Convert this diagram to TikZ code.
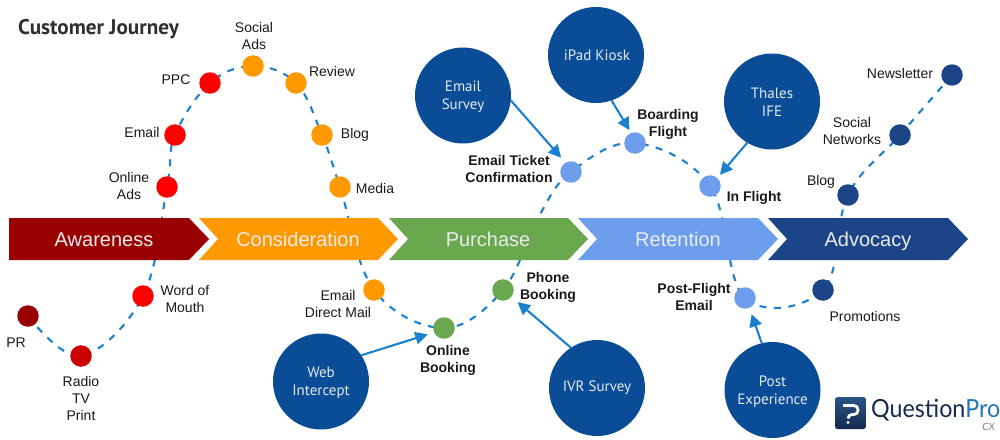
\documentclass[tikz,border=0pt]{standalone}
\usepackage{fontspec}
\setmainfont{Liberation Sans}
\newfontfamily\circfont{PT Sans}
\newfontfamily\logofont{Lato}
\usetikzlibrary{arrows.meta,calc}
\definecolor{cdred}{HTML}{990000}
\definecolor{cred}{HTML}{CC0000}
\definecolor{cbright}{HTML}{FF0000}
\definecolor{corange}{HTML}{FF9900}
\definecolor{cgreen}{HTML}{6AA84F}
\definecolor{clight}{HTML}{6D9EEB}
\definecolor{cdark}{HTML}{1C4587}
\definecolor{cbig}{HTML}{0B4C96}
\definecolor{cline}{HTML}{1B80CF}
\definecolor{ctitle}{HTML}{2F2F2F}
\definecolor{clogo}{HTML}{17284F}
\definecolor{clogotop}{HTML}{2A5488}
\definecolor{cpro}{HTML}{1F77BC}
\pgfdeclarelayer{bg}
\pgfsetlayers{bg,main}
\tikzset{
  x=1pt,y=-1pt,
  dotn/.style={circle,draw=none,fill=#1,minimum size=21.5pt,inner sep=0pt},
  bign/.style={circle,draw=none,fill=cbig,minimum size=96pt,inner sep=0pt},
  bigt/.style={inner sep=0pt,text=white!88!cbig,
    font=\circfont\fontsize{15}{18}\selectfont,align=center},
  lab/.style={inner sep=0pt,align=center,font=\fontsize{14}{17}\selectfont,text=black!90},
  blab/.style={inner sep=0pt,align=center,font=\bfseries\fontsize{14}{17}\selectfont,text=black!90},
  chevt/.style={inner sep=0pt,anchor=base,text=white!92!black,font=\fontsize{20}{24}\selectfont},
  curve/.style={draw=cline,line width=2.1pt,dash pattern=on 7pt off 7.5pt},
  link/.style={draw=cline,line width=2.1pt,-{Triangle[length=12.5pt,width=12.5pt]}},
}
\newcommand{\chev}[3]{\fill[#3] (#1,218)--(#1+#2-20,218)--(#1+#2,239)--(#1+#2-20,260)--(#1,260)--(#1+19,239)--cycle;}
\begin{document}
\begin{tikzpicture}
\useasboundingbox (0,0) rectangle (1000,439);
% chevrons
\fill[cdred] (9,218)--(189,218)--(209,239)--(189,260)--(9,260)--cycle;
\chev{199}{199}{corange}
\chev{389}{199}{cgreen}
\chev{578}{200}{clight}
\chev{768}{200}{cdark}
\node[chevt] (aw) at (104,246) {Awareness};
\node[chevt] (co) at (298,246) {Consideration};
\node[chevt] (pu) at (488,246) {Purchase};
\node[chevt] (re) at (678,246) {Retention};
\node[chevt] (ad) at (868,246) {Advocacy};
% touch points
\node[dotn=cdred] (pr) at (28,316) {};
\node[dotn=cred] (radio) at (81,356) {};
\node[dotn=cbright] (wom) at (143,296) {};
\node[dotn=cbright] (oads) at (167,187) {};
\node[dotn=cbright] (email) at (175,135) {};
\node[dotn=cbright] (ppc) at (210,83) {};
\node[dotn=corange] (social) at (253,66) {};
\node[dotn=corange] (review) at (296,83) {};
\node[dotn=corange] (blog) at (322,135) {};
\node[dotn=corange] (media) at (340,187) {};
\node[dotn=corange] (edm) at (374,290) {};
\node[dotn=cgreen] (online) at (444,328) {};
\node[dotn=cgreen] (phone) at (503,290) {};
\node[dotn=clight] (ticket) at (571,172) {};
\node[dotn=clight] (board) at (635,143) {};
\node[dotn=clight] (flight) at (710,186) {};
\node[dotn=clight] (post) at (745,298) {};
\node[dotn=cdark] (promo) at (823,290) {};
\node[dotn=cdark] (blog2) at (848,195) {};
\node[dotn=cdark] (net) at (900,135) {};
\node[dotn=cdark] (news) at (952,75) {};
\coordinate (bend) at (538,218);
\begin{pgfonlayer}{bg}
\draw[curve] plot[smooth,tension=0.62] coordinates {(pr) (radio) (wom) (oads) (email) (ppc) (social) (review) (blog) (media) (edm) (online) (phone) (bend) (ticket) (board) (flight) (post) (promo) (blog2) (net) (news)};
\end{pgfonlayer}
% big circles
\node[bign] (es) at (463,95.5) {};
\node[bign] (ipad) at (596,55) {};
\node[bign] (thales) at (772,101.5) {};
\node[bign] (web) at (321,381.5) {};
\node[bign] (ivr) at (597,388) {};
\node[bign] (pe) at (772.5,390) {};
\node[bigt] (tes) at (463,97) {Email\\Survey};
\node[bigt] (tipad) at (597,55) {iPad Kiosk};
\node[bigt] (tthales) at (772,102.5) {Thales\\IFE};
\node[bigt] (tweb) at (321,383) {Web\\Intercept};
\node[bigt] (tivr) at (597,388) {IVR Survey};
\node[bigt] (tpe) at (772.5,391.5) {Post\\Experience};
% links
\draw[link,shorten >=6.5pt] (es.-6) -- (ticket.121);
\draw[link,shorten >=3pt] (ipad.-71) -- (board.111);
\draw[link,shorten >=4pt] (thales.-121) -- (flight.48);
\draw[link,shorten >=6.5pt] (web.33) -- (online.204);
\draw[link,shorten >=8pt] (ivr.123) -- (phone.-39);
\draw[link,shorten >=6.5pt] (pe.103) -- (post.-66);
% labels
\node[lab] (tpr) at (16,343) {PR};
\node[lab] (tradio) at (81,398) {Radio\\TV\\Print};
\node[lab] (twom) at (185,299) {Word of\\Mouth};
\node[lab] (toads) at (129,186) {Online\\Ads};
\node[lab] (temail) at (142,132) {Email};
\node[lab] (tppc) at (176,80) {PPC};
\node[lab] (tsocial) at (254,36) {Social\\Ads};
\node[lab] (treview) at (332,71) {Review};
\node[lab] (tblog) at (355,135) {Blog};
\node[lab] (tmedia) at (375,188) {Media};
\node[lab] (tedm) at (338,304) {Email\\Direct Mail};
\node[blab] (tonline) at (448,360) {Online\\Booking};
\node[blab] (tphone) at (548,287) {Phone\\Booking};
\node[blab] (tticket) at (509,169) {Email Ticket\\Confirmation};
\node[blab] (tboard) at (668,124) {Boarding\\Flight};
\node[blab] (tflight) at (754,198) {In Flight};
\node[blab] (tpost) at (694,297) {Post-Flight\\Email};
\node[lab] (tpromo) at (865,316) {Promotions};
\node[lab] (tblog2) at (821,182) {Blog};
\node[lab] (tnet) at (852,131) {Social\\Networks};
\node[lab] (tnews) at (900,73) {Newsletter};
% title
\node[anchor=west,inner sep=0pt,text=ctitle,font=\circfont\bfseries\fontsize{21.2}{24}\selectfont] (title) at (18,29) {Customer Journey};
% logo
\shade[top color=clogotop,bottom color=clogo,rounded corners=2.5pt] (835,397) rectangle (866,429);
\draw[white,line width=2.8pt,rounded corners=4pt] (843,405.5) -- (858,405.5) -- (858,414.5) -- (848,414.5) [sharp corners] -- (848,418.5);
\fill[white] (848,422.5) circle[radius=1.7];
\node[anchor=base west,inner sep=0pt,font=\logofont\fontsize{25}{26}\selectfont] (qp) at (871,417) {\scalebox{0.93}[1]{\textcolor{clogo}{Question}\textcolor{cpro}{Pro}}};
\node[anchor=base east,inner sep=0pt,text=black!50,font=\logofont\itshape\fontsize{10}{10}\selectfont] (cx) at (995,430) {CX};
\end{tikzpicture}
\end{document}
